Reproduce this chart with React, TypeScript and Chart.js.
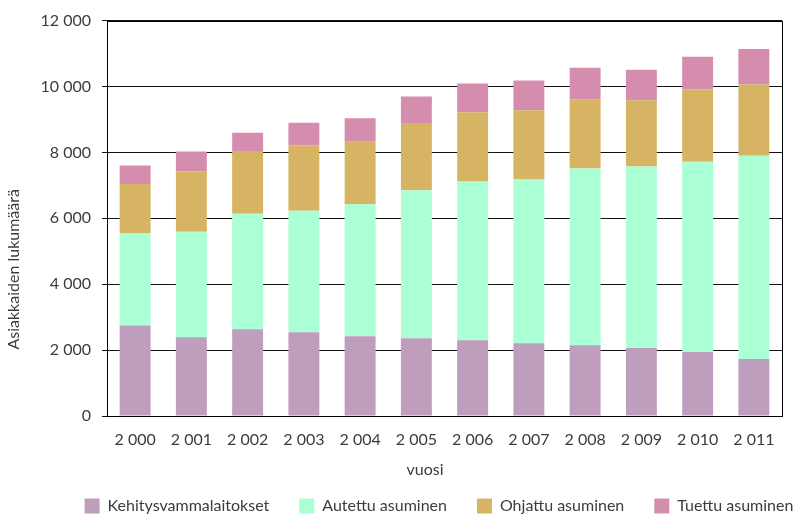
import React, { useEffect, useRef } from "react";
import { Chart, registerables } from "chart.js";

Chart.register(...registerables);

const years = ["2 000", "2 001", "2 002", "2 003", "2 004", "2 005", "2 006", "2 007", "2 008", "2 009", "2 010", "2 011"];
const kehitysvammalaitokset = [2750, 2390, 2630, 2540, 2420, 2360, 2300, 2210, 2150, 2060, 1940, 1730];
const autettuAsuminen = [2790, 3200, 3510, 3690, 4010, 4490, 4820, 4970, 5360, 5510, 5780, 6170];
const ohjattuAsuminen = [1500, 1830, 1900, 1980, 1890, 2040, 2100, 2100, 2100, 2010, 2190, 2160];
const tuettuAsuminen = [560, 610, 560, 690, 720, 810, 870, 900, 960, 930, 990, 1080];
const seriesNames = ["Kehitysvammalaitokset", "Autettu asuminen", "Ohjattu asuminen", "Tuettu asuminen"];
const yTitle = "Asiakkaiden lukumäärä";
const xTitle = "vuosi";

const FONT = "Lato, 'Open Sans', sans-serif";
const TEXT = "#3c3c3c";

const frame = {
  id: "frame",
  afterLayout(chart: any) {
    const lg = chart.legend;
    if (!lg) return;
    const pad = lg.options.labels.padding;
    const ih = lg._itemHeight || 16;
    const dy = 506 - (lg.top + pad + ih / 2);
    lg.top += dy;
    lg.bottom += dy;
    const dx = 48;
    lg.left += dx;
    lg.right += dx;
  },
  afterDatasetsDraw(chart: any) {
    const { ctx, chartArea: a } = chart;
    ctx.save();
    ctx.strokeStyle = "#000";
    ctx.lineWidth = 1;
    ctx.strokeRect(Math.round(a.left) + 0.5, Math.round(a.top) + 0.5, Math.round(a.right - a.left), Math.round(a.bottom - a.top));
    ctx.restore();
  },
  afterDraw(chart: any) {
    const { ctx } = chart;
    ctx.save();
    ctx.fillStyle = TEXT;
    ctx.font = `16px ${FONT}`;
    ctx.textAlign = "center";
    ctx.textBaseline = "middle";
    ctx.fillText(xTitle, 425, 470);
    ctx.translate(14, chart.height * 0.522);
    ctx.rotate(-Math.PI / 2);
    ctx.fillText(yTitle, 0, 0);
    ctx.restore();
  },
};

export default function App() {
  const ref = useRef<HTMLCanvasElement | null>(null);
  useEffect(() => {
    document.body.style.margin = "0";
    const colors = ["#BF9EBD", "#AAFFD5", "#D6B464", "#D58DAE"];
    const values = [kehitysvammalaitokset, autettuAsuminen, ohjattuAsuminen, tuettuAsuminen];
    const chart = new Chart(ref.current as HTMLCanvasElement, {
      type: "bar",
      data: {
        labels: years,
        datasets: values.map((v, i) => ({
          label: seriesNames[i],
          data: v,
          backgroundColor: colors[i],
          borderWidth: 0,
          categoryPercentage: 1,
          barPercentage: 0.55,
        })),
      },
      options: {
        animation: false,
        responsive: false,
        maintainAspectRatio: false,
        layout: { padding: { left: 0, right: 18, top: 15, bottom: 0 } },
        plugins: {
          tooltip: { enabled: false },
          legend: {
            position: "bottom",
            labels: {
              boxWidth: 15,
              boxHeight: 15,
              padding: 30,
              color: TEXT,
              font: { family: FONT, size: 16 },
            },
          },
        },
        scales: {
          x: {
            stacked: true,
            afterFit(scale: any) {
              const lgH = scale.chart.legend ? scale.chart.legend.height : 0;
              scale.height = Math.max(0, 516 - 416 - lgH);
            },
            grid: { display: false, drawTicks: false },
            border: { display: true, color: "#000" },
            ticks: { color: TEXT, font: { family: FONT, size: 16 }, padding: 14, maxRotation: 0, autoSkip: false },
          },
          y: {
            stacked: true,
            min: 0,
            max: 12000,
            afterFit(scale: any) {
              scale.width = 107;
            },
            grid: { color: "#111", lineWidth: 1, tickLength: 5, tickColor: "#111" },
            border: { display: true, color: "#000" },
            ticks: {
              stepSize: 2000,
              padding: 11,
              color: TEXT,
              font: { family: FONT, size: 16 },
              callback: (v: any) => {
                const n = Number(v);
                return n >= 1000 ? `${Math.floor(n / 1000)} ${String(n % 1000).padStart(3, "0")}` : String(n);
              },
            },
          },
        },
      },
      plugins: [frame],
    });
    return () => chart.destroy();
  }, []);
  return (
    <div style={{ width: 800, height: 516 }}>
      <canvas ref={ref} width={800} height={516} style={{ display: "block" }} />
    </div>
  );
}
